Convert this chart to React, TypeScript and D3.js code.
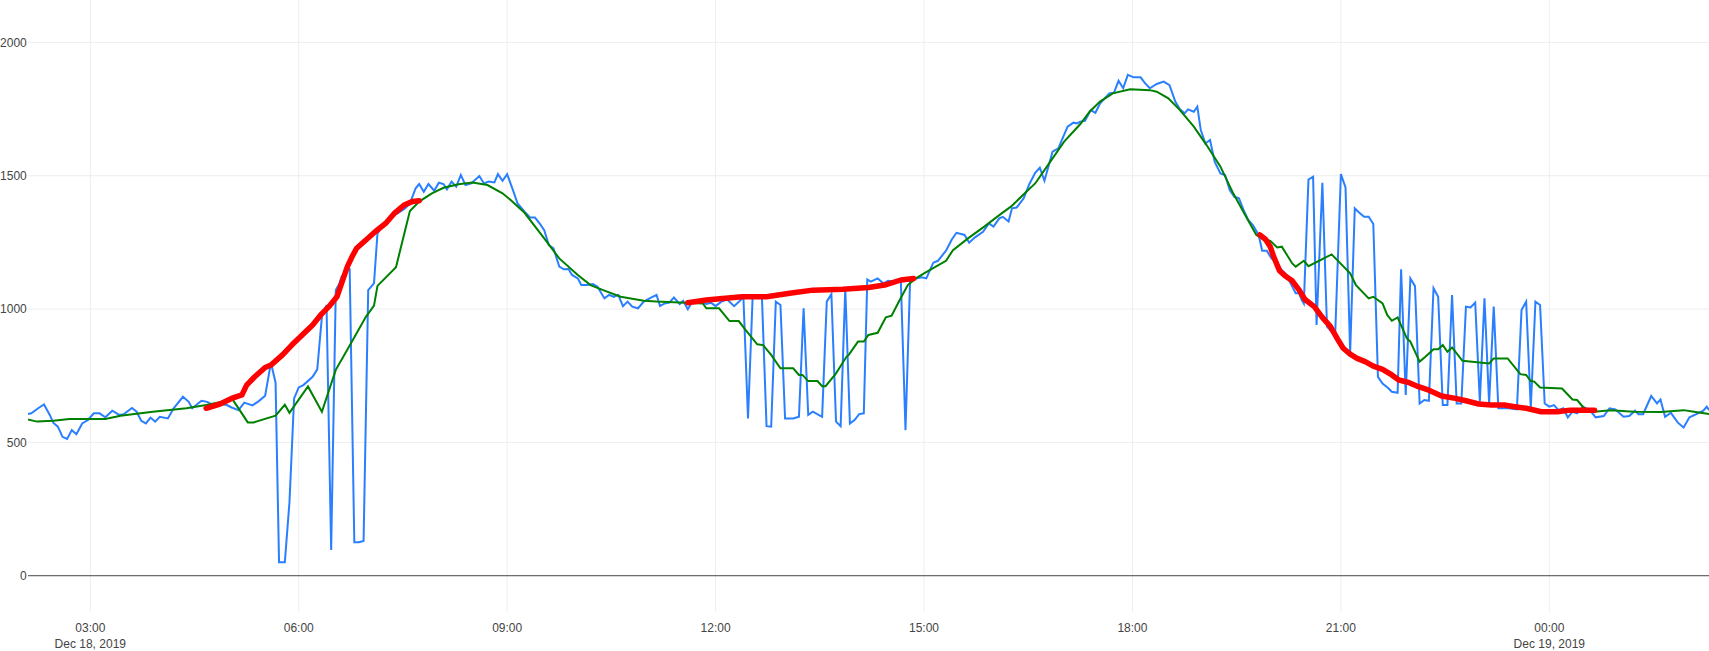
import React from 'react';
import * as d3 from 'd3';

// ---- Data ----
// Times are "HH:MM" in order starting Dec 18, 2019; a decrease in time means next day.
const blueTimes = [
  '02:06','02:09','02:15','02:20','02:25','02:28','02:32','02:36','02:40','02:44','02:48','02:53','02:58',
  '03:03','03:08','03:13','03:19','03:25','03:29','03:36','03:40','03:44','03:48','03:52','03:56',
  '04:00','04:07','04:12','04:20','04:25','04:28','04:36','04:41','04:46','04:52','04:58',
  '05:02','05:08','05:13','05:20','05:25','05:31','05:36','05:40','05:43','05:48','05:52','05:56',
  '06:00','06:04','06:12','06:16','06:20','06:24','06:28','06:32','06:35','06:37','06:42','06:44','06:48','06:52','06:56',
  '07:00','07:05','07:08','07:15','07:21','07:26','07:32','07:36','07:41','07:44','07:48','07:52','07:57',
  '08:01','08:05','08:08','08:12','08:16','08:20','08:24','08:29','08:36','08:40','08:44','08:49','08:52','08:56',
  '09:00','09:05','09:09','09:15','09:20','09:24','09:28','09:32','09:36','09:40','09:45','09:49','09:53','09:56',
  '10:01','10:04','10:09','10:14','10:18','10:24','10:28','10:32','10:36','10:40','10:44','10:48','10:53','10:58',
  '11:03','11:09','11:12','11:16','11:20','11:24','11:29','11:32','11:36','11:40','11:43','11:47','11:52','11:56',
  '12:00','12:05','12:10','12:16','12:21','12:24','12:28','12:32','12:40','12:44','12:48','12:52','12:56',
  '13:00','13:07','13:12','13:16','13:20','13:24','13:32','13:36','13:40','13:44','13:48','13:52','13:56',
  '14:00','14:04','14:08','14:11','14:14','14:20','14:25','14:29','14:33','14:40','14:44','14:48','14:53','14:58',
  '15:02','15:08','15:12','15:19','15:24','15:28','15:35','15:39','15:44','15:51','15:56',
  '16:00','16:05','16:08','16:13','16:16','16:20','16:26','16:31','16:36','16:40','16:44','16:51','16:56',
  '17:00','17:04','17:09','17:12','17:15','17:19','17:24','17:28','17:32','17:36','17:40','17:44','17:48','17:52','17:56',
  '18:01','18:07','18:11','18:15','18:21','18:27','18:32','18:37','18:41','18:45','18:48','18:53','18:56','18:59',
  '19:03','19:07','19:11','19:16','19:20','19:24','19:28','19:32','19:36','19:40','19:44','19:49','19:52','19:56',
  '20:00','20:05','20:09','20:13','20:18','20:21','20:24','20:26','20:28','20:32','20:36','20:39','20:44','20:48','20:52','20:55',
  '21:00','21:04','21:08','21:12','21:15','21:20','21:24','21:28','21:32','21:36','21:41','21:44','21:49','21:52','21:56',
  '22:00','22:04','22:08','22:12','22:16','22:20','22:24','22:28','22:32','22:36','22:40','22:44','22:48','22:52','22:56',
  '23:00','23:04','23:08','23:12','23:16','23:21','23:25','23:32','23:36','23:40','23:44','23:48','23:52','23:56',
  '00:00','00:04','00:08','00:12','00:16','00:20','00:24','00:29','00:35','00:40','00:47','00:52','00:57',
  '01:04','01:09','01:14','01:17','01:21','01:28','01:33','01:36','01:40','01:45','01:51','01:56',
  '02:01','02:07','02:13','02:16','02:18',
];
const blueValues = [
  606,609,628,642,603,574,559,521,513,546,531,571,584,
  609,609,594,619,603,606,629,615,581,571,593,578,
  596,590,628,671,652,628,656,652,640,644,640,
  631,621,649,639,653,675,799,724,51,51,276,665,
  706,715,746,774,971,1015,97,1071,1094,1121,1149,1149,126,126,130,
  1071,1096,1284,1328,1349,1361,1378,1396,1453,1469,1440,1469,1444,
  1474,1469,1449,1478,1459,1503,1465,1471,1499,1471,1478,1475,1506,1481,
  1506,1446,1396,1365,1343,1343,1321,1296,1240,1228,1159,1149,1150,1128,
  1115,1090,1090,1094,1084,1040,1053,1046,1053,1011,1028,1009,1003,1028,
  1040,1053,1011,1021,1024,1043,1019,1031,999,1028,1034,1028,1019,1024,
  1011,1028,1036,1011,1031,1046,590,1046,1046,561,559,1028,1015,
  590,590,596,1003,603,615,596,1028,1056,578,561,1078,571,
  584,606,609,1111,1103,1115,1096,1106,1103,1103,546,1111,1115,1119,
  1115,1174,1181,1219,1261,1286,1278,1249,1269,1290,1321,
  1309,1340,1346,1328,1378,1381,1415,1469,1511,1530,1481,1590,1603,
  1644,1684,1699,1696,1703,1706,1746,1736,1771,1790,1809,1811,1856,1828,1878,
  1869,1869,1846,1828,1844,1853,1840,1778,1749,1734,1749,1740,1759,1671,
  1621,1634,1553,1509,1503,1446,1421,1415,1371,1334,1315,1278,1219,1219,
  1190,1171,1146,1128,1084,1059,1059,1036,1021,1486,1496,940,1474,934,915,896,
  1506,1456,836,1378,1365,1346,1346,1319,746,721,703,690,686,1149,678,
  1115,1086,646,659,656,1078,1046,640,640,1053,646,646,1009,1006,1024,
  653,1040,646,1009,628,628,628,624,996,1028,628,1028,1015,646,
  634,640,621,628,594,615,609,634,621,594,599,628,624,
  596,599,619,606,606,674,646,661,596,611,574,556,
  594,606,619,634,621,
];

const greenTimes = [
  '02:06','02:14','02:28','02:42','02:57','03:13','03:26','03:54','04:23','04:40',
  '05:03','05:09','05:16','05:21','05:40','05:48','05:52','06:08','06:20','06:32','06:45','06:58',
  '07:05','07:08','07:24','07:36','07:44','07:55','08:05','08:18','08:30','08:43','08:56',
  '09:03','09:15','09:32','09:45','10:01','10:12','10:24','10:38','10:58','11:09','11:34','11:49','11:52',
  '12:03','12:12','12:20','12:26','12:36','12:41','12:48','12:56','13:07','13:12','13:15','13:20','13:28',
  '13:32','13:35','13:44','13:53','13:55','14:03','14:08','14:12','14:20','14:27','14:32','14:39','14:46','14:53',
  '15:00','15:09','15:19','15:25','15:38','15:52','16:07','16:15','16:27','16:36','16:47','17:01','17:15',
  '17:23','17:32','17:43','17:58','18:15','18:21','18:31','18:41','18:53','19:04','19:16','19:27','19:39',
  '19:47','19:52','19:59','20:05','20:09','20:18','20:21','20:28','20:32','20:52','21:08','21:13','21:24',
  '21:28','21:36','21:40','21:44','21:49','21:57','22:00','22:08','22:13','22:20','22:24','22:28','22:32',
  '22:36','22:45','23:08','23:12','23:21','23:24','23:35','23:40','23:44','23:47','23:52',
  '00:11','00:20','00:24','00:30','00:39','00:53','01:13','01:36','01:56','02:05','02:18',
];
const greenValues = [
  586,578,581,588,588,588,600,615,628,640,
  660,621,575,575,600,641,611,710,615,772,871,971,
  1013,1087,1157,1368,1403,1434,1455,1468,1475,1465,1434,
  1409,1361,1265,1190,1128,1090,1069,1046,1031,1028,1024,1021,1003,
  1003,955,955,921,868,865,828,778,778,753,753,730,730,
  711,711,759,821,828,878,878,903,911,969,975,1034,1090,1115,
  1134,1156,1181,1221,1265,1309,1359,1384,1434,1471,1540,1628,1694,
  1740,1778,1809,1824,1821,1815,1790,1746,1684,1615,1534,1434,1340,
  1278,1265,1256,1231,1234,1171,1159,1181,1161,1205,1134,1090,1040,
  1046,1021,978,956,969,890,878,803,821,849,849,865,840,
  856,806,796,815,815,815,756,753,730,728,706,
  702,661,659,628,615,621,615,614,621,615,606,
];

// Red trend: three separate segments
const redTimes1 = [
  '04:40','04:52','05:02','05:11','05:15','05:22','05:31','05:36','05:46','05:54','06:03','06:12','06:19',
  '06:26','06:33','06:37','06:42','06:46','06:50','06:58','07:06','07:15','07:23','07:31','07:38','07:44',
];
const redValues1 = [
  628,644,665,678,715,746,781,790,828,865,903,940,978,
  1009,1046,1096,1159,1196,1228,1259,1290,1321,1361,1390,1403,1406,
];
const redTimes2 = ['11:36','11:52','12:06','12:23','12:44','13:04','13:24','13:50','14:12','14:26','14:40','14:51'];
const redValues2 = [1024,1034,1040,1046,1046,1059,1071,1074,1081,1090,1109,1115];
const redTimes3 = [
  '19:50','19:55','19:59','20:02','20:05','20:07','20:12','20:18','20:24','20:29','20:37','20:44','20:51',
  '20:58','21:02','21:08','21:14','21:21','21:28','21:36','21:44','21:50','21:59','22:07','22:16','22:27',
  '22:39','22:48','22:59','23:10','23:21','23:30','23:40','23:53','00:07','00:18','00:39',
];
const redValues3 = [
  1278,1261,1234,1196,1165,1144,1124,1106,1071,1036,1009,969,934,
  881,853,831,815,803,786,774,753,734,724,709,696,674,
  665,656,644,640,640,634,628,615,615,621,621,
];

const yTicks = [0, 500, 1000, 1500, 2000];

// ---- helpers ----
function toDates(times: string[]): Date[] {
  let day = 18;
  let prev = -1;
  return times.map((t) => {
    const [h, m] = t.split(':').map(Number);
    const mm = h * 60 + m;
    if (mm < prev) day += 1;
    prev = mm;
    return new Date(2019, 11, day, h, m);
  });
}
function series(times: string[], values: number[]): [Date, number][] {
  const ds = toDates(times);
  return ds.map((d, i) => [d, values[i]]);
}

const W = 1709;
const H = 651;
const L = 28;
const R = 1709;
const T = 0;
const B = 612;

export default function App() {
  const x = d3
    .scaleTime()
    .domain([new Date(2019, 11, 18, 2, 6, 12), new Date(2019, 11, 19, 2, 17, 54)])
    .range([L, R]);
  const y = d3.scaleLinear().domain([-136, 2159]).range([B, T]);

  const line = d3
    .line<[Date, number]>()
    .x((d) => x(d[0]))
    .y((d) => y(d[1]));

  const blue = series(blueTimes, blueValues);
  const green = series(greenTimes, greenValues);
  const red1 = series(redTimes1, redValues1);
  const red2 = series(redTimes2, redValues2);
  const red3 = series(redTimes3, redValues3);

  const xTicks = x.ticks(d3.timeHour.every(3) as any);
  const fmtTime = d3.timeFormat('%H:%M');
  const fmtDate = d3.timeFormat('%b %d, %Y');

  const font = '"Liberation Sans", Arial, sans-serif';

  return (
    <svg
      width={W}
      height={H}
      style={{ position: 'absolute', left: 0, top: 0, background: '#fff' }}
      fontFamily={font}
    >
      <defs>
        <clipPath id="plotclip">
          <rect x={L} y={T} width={R - L} height={B - T} />
        </clipPath>
      </defs>
      {/* vertical grid */}
      {xTicks.map((t, i) => (
        <line key={'vx' + i} x1={x(t)} x2={x(t)} y1={T} y2={B} stroke="#eee" strokeWidth={1} />
      ))}
      {/* horizontal grid */}
      {yTicks
        .filter((v) => v !== 0)
        .map((v) => (
          <line key={'hy' + v} x1={L} x2={R} y1={y(v)} y2={y(v)} stroke="#eee" strokeWidth={1} />
        ))}
      {/* zero line */}
      <line x1={L} x2={R} y1={y(0)} y2={y(0)} stroke="#444" strokeWidth={1} />

      <g clipPath="url(#plotclip)" fill="none">
        <path d={line(blue) || ''} stroke="#2a7fff" strokeWidth={2} />
        <path d={line(green) || ''} stroke="green" strokeWidth={2} />
        {[red1, red2, red3].map((s, i) => (
          <path
            key={'r' + i}
            d={line(s) || ''}
            stroke="red"
            strokeWidth={5.5}
            strokeLinejoin="round"
            strokeLinecap="round"
          />
        ))}
      </g>

      {/* y tick labels */}
      {yTicks.map((v) => (
        <text key={'yl' + v} x={26.8} y={y(v) + 4.3} textAnchor="end" fontSize={12} fill="#444">
          {v}
        </text>
      ))}
      {/* x tick labels */}
      {xTicks.map((t, i) => {
        const showDate = i === 0 || (t.getHours() === 0 && t.getMinutes() === 0);
        return (
          <g key={'xl' + i}>
            <text x={x(t)} y={632} textAnchor="middle" fontSize={12} fill="#444">
              {fmtTime(t)}
            </text>
            {showDate && (
              <text x={x(t)} y={648} textAnchor="middle" fontSize={12} fill="#444">
                {fmtDate(t)}
              </text>
            )}
          </g>
        );
      })}
    </svg>
  );
}
